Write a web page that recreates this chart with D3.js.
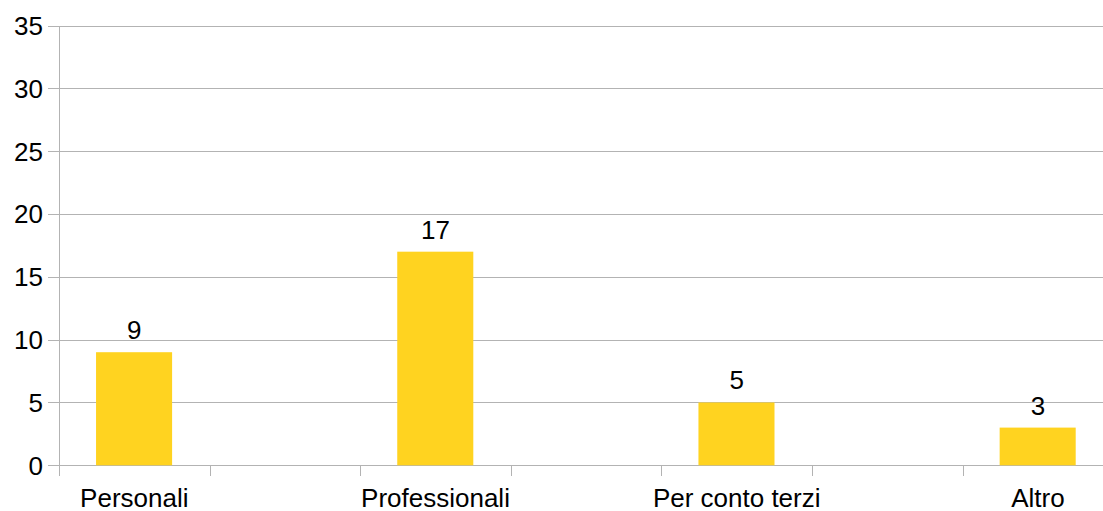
<!DOCTYPE html>
<html>
<head>
<meta charset="utf-8">
<script src="https://cdn.jsdelivr.net/npm/d3@7/dist/d3.min.js"></script>
<style>
  html, body { margin: 0; padding: 0; background: #ffffff; }
  svg { display: block; }
  text { font-family: "Liberation Sans", Arial, sans-serif; fill: #000000; }
</style>
</head>
<body>
<svg id="chart" width="1103" height="511"></svg>
<script>
// Answers per category
const categories = ["Personali", "Professionali", "Per conto terzi", "Altro"];
const values = [9, 17, 5, 3];
const yTicks = [0, 5, 10, 15, 20, 25, 30, 35];

// Each category occupies every other slot on the category axis
const slotCount = 7;
const slotOf = i => i * 2;

const svg = d3.select("#chart");
const fontSize = 26;
const gridColor = "#b3b3b3";

const x = d3.scaleBand()
  .domain(d3.range(slotCount))
  .range([59, 59 + slotCount * 150.6])
  .paddingInner(0)
  .paddingOuter(0);

const y = d3.scaleLinear()
  .domain([0, 35])
  .range([465.3, 25.5]);

const left = x.range()[0];
const right = x.range()[1];

// Horizontal gridlines
svg.append("g")
  .selectAll("line")
  .data(yTicks)
  .join("line")
  .attr("x1", left - 11)
  .attr("x2", right)
  .attr("y1", d => Math.round(y(d)) + 0.5)
  .attr("y2", d => Math.round(y(d)) + 0.5)
  .attr("stroke", gridColor)
  .attr("stroke-width", 1);

// Vertical axis line
svg.append("line")
  .attr("x1", left + 0.5).attr("x2", left + 0.5)
  .attr("y1", Math.round(y(35)))
  .attr("y2", Math.round(y(0)) + 11)
  .attr("stroke", gridColor)
  .attr("stroke-width", 1);

// Slot boundary ticks below the baseline
const boundaries = d3.range(slotCount + 1).map(i => i < slotCount ? x(i) : right);
svg.append("g")
  .selectAll("line")
  .data(boundaries.slice(1))
  .join("line")
  .attr("x1", d => Math.round(d) + 0.5)
  .attr("x2", d => Math.round(d) + 0.5)
  .attr("y1", Math.round(y(0)))
  .attr("y2", Math.round(y(0)) + 11)
  .attr("stroke", gridColor)
  .attr("stroke-width", 1);

// Y tick labels
svg.append("g")
  .selectAll("text")
  .data(yTicks)
  .join("text")
  .attr("x", 43)
  .attr("y", d => y(d))
  .attr("dy", "0.36em")
  .attr("text-anchor", "end")
  .attr("font-size", fontSize)
  .text(d => d);

// Bars
const bw = x.bandwidth();
svg.append("g")
  .selectAll("rect")
  .data(values)
  .join("rect")
  .attr("x", (d, i) => x(slotOf(i)) + bw * 0.246)
  .attr("width", bw * 0.505)
  .attr("y", d => y(d))
  .attr("height", d => y(0) - y(d))
  .attr("fill", "#ffd320");

// Value labels
svg.append("g")
  .selectAll("text")
  .data(values)
  .join("text")
  .attr("x", (d, i) => x(slotOf(i)) + bw / 2)
  .attr("y", d => y(d) - 13)
  .attr("text-anchor", "middle")
  .attr("font-size", fontSize)
  .text(d => d);

// Category labels
svg.append("g")
  .selectAll("text")
  .data(categories)
  .join("text")
  .attr("x", (d, i) => x(slotOf(i)) + bw / 2)
  .attr("y", 507)
  .attr("text-anchor", "middle")
  .attr("font-size", fontSize)
  .text(d => d);
</script>
</body>
</html>
